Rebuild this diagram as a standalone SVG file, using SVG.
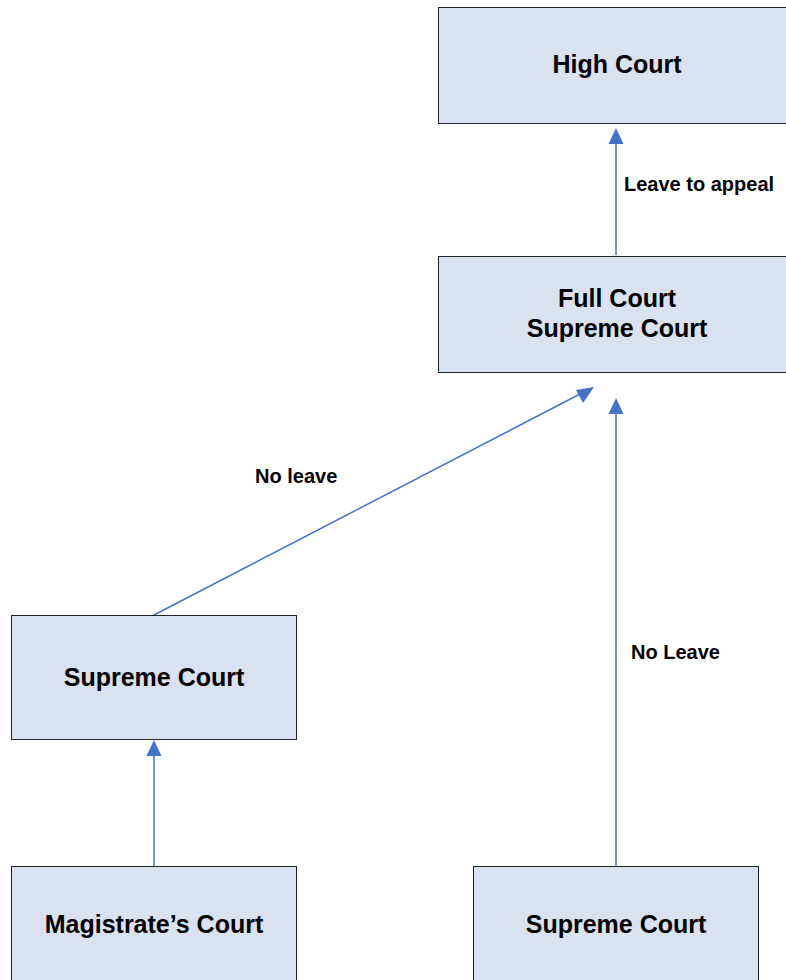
<svg xmlns="http://www.w3.org/2000/svg" width="786" height="980" viewBox="0 0 786 980">
<defs>
<style>
.box{fill:#DAE1F1;stroke:#222;stroke-width:1}
.t{font-family:"Liberation Sans",Arial,sans-serif;font-weight:bold;font-size:25px;fill:#000;text-anchor:middle}
.l{font-family:"Liberation Sans",Arial,sans-serif;font-weight:bold;font-size:20px;fill:#000}
.c{stroke:#4472C4;stroke-width:1.5;fill:none}
.h{fill:#4472C4}
</style>
</defs>
<rect width="786" height="980" fill="#fff"/>
<g id="connectors">
<line class="c" x1="616" y1="255" x2="616" y2="140"/>
<polygon class="h" points="616,128 608.5,144 623.5,144"/>
<line class="c" x1="154" y1="615" x2="580" y2="394"/>
<polygon class="h" points="594,387 576,390 583,403"/>
<line class="c" x1="616" y1="866" x2="616" y2="410"/>
<polygon class="h" points="616,398 608.5,414 623.5,414"/>
<line class="c" x1="154" y1="866" x2="154" y2="752"/>
<polygon class="h" points="154,740 146.5,756 161.5,756"/>
<text class="l" x="624" y="191">Leave to appeal</text>
<text class="l" x="255" y="483">No leave</text>
<text class="l" x="631" y="659">No Leave</text>
</g>
<g id="high-court">
<rect class="box" x="438.5" y="7.5" width="350" height="116"/>
<text class="t" x="617" y="73">High Court</text>
</g>
<g id="full-court">
<rect class="box" x="438.5" y="256.5" width="350" height="116"/>
<text class="t" x="617" y="307">Full Court</text>
<text class="t" x="617" y="337">Supreme Court</text>
</g>
<g id="supreme-court-left">
<rect class="box" x="11.5" y="615.5" width="285" height="124"/>
<text class="t" x="154" y="686">Supreme Court</text>
</g>
<g id="magistrates-court">
<rect class="box" x="11.5" y="866.5" width="285" height="124"/>
<text class="t" x="154" y="933">Magistrate’s Court</text>
</g>
<g id="supreme-court-right">
<rect class="box" x="473.5" y="866.5" width="285" height="124"/>
<text class="t" x="616" y="933">Supreme Court</text>
</g>
</svg>
